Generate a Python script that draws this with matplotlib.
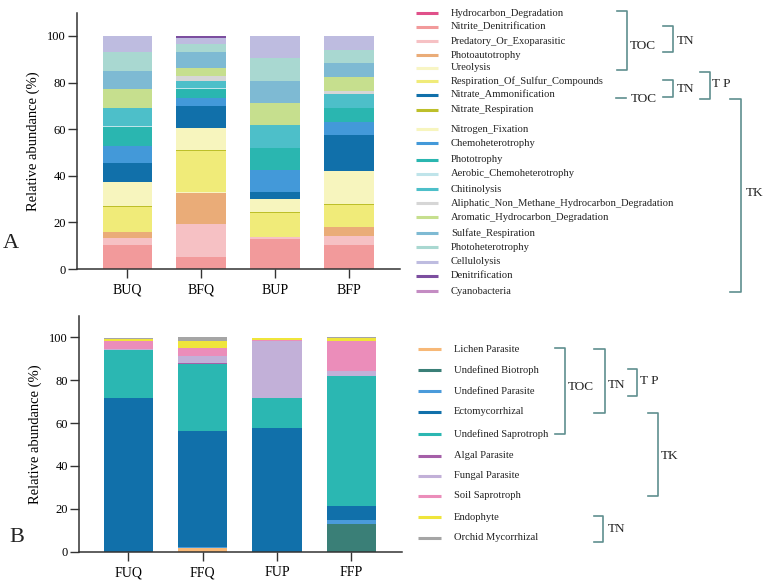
import matplotlib
matplotlib.use('Agg')
import matplotlib.pyplot as plt
import numpy as np

plt.rcParams['font.family'] = ['Liberation Serif', 'DejaVu Serif']

# ---------------- data: panel A (bacterial functions) ----------------
samples_a = ['BUQ', 'BFQ', 'BUP', 'BFP']

# legend order (top -> bottom)
funcs_a = ['Hydrocarbon_Degradation', 'Nitrite_Denitrification', 'Predatory_Or_Exoparasitic',
           'Photoautotrophy', 'Ureolysis', 'Respiration_Of_Sulfur_Compounds',
           'Nitrate_Ammonification', 'Nitrate_Respiration', 'Nitrogen_Fixation',
           'Chemoheterotrophy', 'Phototrophy', 'Aerobic_Chemoheterotrophy', 'Chitinolysis',
           'Aliphatic_Non_Methane_Hydrocarbon_Degradation', 'Aromatic_Hydrocarbon_Degradation',
           'Sulfate_Respiration', 'Photoheterotrophy', 'Cellulolysis', 'Denitrification',
           'Cyanobacteria']
colors_a = ['#E0508A', '#F29A9B', '#F6C1C4', '#EAAC78', '#F8F5C4', '#F0EB79',
            '#1170AA', '#BDBF2A', '#F7F5BE', '#4399D9', '#2AB6B0', '#BFE4EA', '#4DBFC9',
            '#D6D6D6', '#C6DF8E', '#7EBAD3', '#A9D8D1', '#BEBCE0', '#7C4E9F', '#C48CC3']

# relative abundance (%) per function, samples BUQ, BFQ, BUP, BFP
hydrocarbon_deg = [0.0, 0.1, 0.0, 0.0]
nitrite_denit = [10.4, 5.0, 12.9, 10.4]
predatory = [3.0, 14.0, 0.7, 3.9]
photoautotrophy = [2.4, 13.7, 0.2, 3.6]
ureolysis = [0.2, 0.2, 0.1, 0.1]
resp_sulfur = [10.5, 17.8, 10.3, 9.6]
nitrate_amm = [8.0, 9.4, 3.1, 15.3]
nitrate_resp = [0.5, 0.4, 0.1, 0.4]
nitrogen_fix = [10.3, 9.4, 5.6, 14.0]
chemohet = [7.7, 3.6, 9.6, 6.0]
phototrophy = [8.0, 3.8, 9.4, 5.6]
aerobic_chemohet = [0.3, 0.3, 0.1, 0.3]
chitinolysis = [7.8, 3.2, 9.5, 5.9]
aliphatic = [0.2, 1.9, 0.1, 1.4]
aromatic = [7.9, 3.5, 9.6, 6.1]
sulfate_resp = [7.9, 6.8, 9.6, 5.7]
photohet = [7.9, 3.6, 9.6, 5.7]
cellulolysis = [7.0, 2.6, 9.5, 6.0]
denitrification = [0.0, 0.5, 0.0, 0.0]
cyanobacteria = [0.0, 0.2, 0.0, 0.0]

values_a = {
    'Hydrocarbon_Degradation': hydrocarbon_deg,
    'Nitrite_Denitrification': nitrite_denit,
    'Predatory_Or_Exoparasitic': predatory,
    'Photoautotrophy': photoautotrophy,
    'Ureolysis': ureolysis,
    'Respiration_Of_Sulfur_Compounds': resp_sulfur,
    'Nitrate_Ammonification': nitrate_amm,
    'Nitrate_Respiration': nitrate_resp,
    'Nitrogen_Fixation': nitrogen_fix,
    'Chemoheterotrophy': chemohet,
    'Phototrophy': phototrophy,
    'Aerobic_Chemoheterotrophy': aerobic_chemohet,
    'Chitinolysis': chitinolysis,
    'Aliphatic_Non_Methane_Hydrocarbon_Degradation': aliphatic,
    'Aromatic_Hydrocarbon_Degradation': aromatic,
    'Sulfate_Respiration': sulfate_resp,
    'Photoheterotrophy': photohet,
    'Cellulolysis': cellulolysis,
    'Denitrification': denitrification,
    'Cyanobacteria': cyanobacteria,
}
# stacking order in the bars (bottom -> top)
stack_a = ['Hydrocarbon_Degradation', 'Nitrite_Denitrification', 'Predatory_Or_Exoparasitic',
           'Photoautotrophy', 'Ureolysis', 'Respiration_Of_Sulfur_Compounds',
           'Nitrate_Respiration', 'Nitrogen_Fixation', 'Nitrate_Ammonification',
           'Chemoheterotrophy', 'Phototrophy', 'Aerobic_Chemoheterotrophy', 'Chitinolysis',
           'Aliphatic_Non_Methane_Hydrocarbon_Degradation', 'Aromatic_Hydrocarbon_Degradation',
           'Sulfate_Respiration', 'Photoheterotrophy', 'Cellulolysis', 'Denitrification',
           'Cyanobacteria']

# ---------------- data: panel B (fungal guilds) ----------------
samples_b = ['FUQ', 'FFQ', 'FUP', 'FFP']
guilds_b = ['Lichen Parasite', 'Undefined Biotroph', 'Undefined Parasite', 'Ectomycorrhizal',
            'Undefined Saprotroph', 'Algal Parasite', 'Fungal Parasite', 'Soil Saprotroph',
            'Endophyte', 'Orchid Mycorrhizal']
colors_b = ['#F7B877', '#3A7F77', '#4A9BDB', '#1170AA', '#2BB7B2', '#A55FA8', '#C2B0D8',
            '#EB8DBA', '#EFE53B', '#A5A5A5']

lichen_par = [0.0, 1.9, 0.0, 0.0]
undef_biotroph = [0.0, 0.0, 0.0, 12.9]
undef_parasite = [0.0, 0.3, 0.0, 1.7]
ectomyc = [71.8, 54.0, 57.9, 6.5]
undef_sapro = [22.1, 31.6, 13.9, 60.9]
algal_par = [0.1, 0.1, 0.0, 0.0]
fungal_par = [0.5, 3.5, 26.3, 2.5]
soil_sapro = [3.6, 3.7, 0.6, 13.7]
endophyte = [1.2, 3.3, 1.1, 1.6]
orchid_myc = [0.6, 1.6, 0.1, 0.2]
values_b = [lichen_par, undef_biotroph, undef_parasite, ectomyc, undef_sapro,
            algal_par, fungal_par, soil_sapro, endophyte, orchid_myc]

# ---------------- figure ----------------
W, H = 767, 581
fig = plt.figure(figsize=(W / 100, H / 100), dpi=100)
SPINE = '#333333'
BR = '#5F8F8F'


def px_axes(left, top, right, bottom):
    return fig.add_axes([left / W, 1 - bottom / H, (right - left) / W, (bottom - top) / H])


def style_axes(ax, labels, xlim):
    ax.set_ylim(0, 110)
    ax.set_xlim(*xlim)
    ax.set_yticks([0, 20, 40, 60, 80, 100])
    ax.set_xticks(range(len(labels)))
    ax.set_xticklabels(labels, fontsize=10)
    ax.tick_params(axis='y', labelsize=9, length=6.5, width=1.0, color=SPINE, pad=1.5)
    ax.tick_params(axis='x', length=6.5, width=1.0, color=SPINE, pad=4)
    for s in ['top', 'right']:
        ax.spines[s].set_visible(False)
    for s in ['left', 'bottom']:
        ax.spines[s].set_color(SPINE)
        ax.spines[s].set_linewidth(1.1)
    ax.set_ylabel('Relative abundance (%)', fontsize=10.5, labelpad=5)


# panel A
axA = px_axes(77, 12.7, 400, 269)
x = np.arange(len(samples_a))
bottom = np.zeros(len(samples_a))
for name in stack_a:
    v = np.array(values_a[name])
    axA.bar(x, v, 0.67, bottom=bottom, color=colors_a[funcs_a.index(name)], linewidth=0)
    bottom += v
style_axes(axA, samples_a, (-0.68, 3.69))

# panel B
axB = px_axes(79, 316, 402, 551.7)
x = np.arange(len(samples_b))
bottom = np.zeros(len(samples_b))
for name, v, c in zip(guilds_b, values_b, colors_b):
    v = np.array(v)
    axB.bar(x, v, 0.66, bottom=bottom, color=c, linewidth=0)
    bottom += v
style_axes(axB, samples_b, (-0.66, 3.68))

# overlay in pixel coordinates for legends, brackets and panel letters
ov = fig.add_axes([0, 0, 1, 1], facecolor='none')
ov.set_xlim(0, W)
ov.set_ylim(H, 0)
ov.axis('off')

rows_a = [13, 27, 41, 55, 68, 81, 95, 110, 129, 143, 160, 174, 189, 203, 217, 233, 247, 262, 276, 291]
for name, c, y in zip(funcs_a, colors_a, rows_a):
    ov.plot([416, 438], [y, y], color=c, lw=2.2, solid_capstyle='butt')
    ov.text(451, y, name, fontsize=7.6, va='center', ha='left', color='#222222')

rows_b = [349, 370, 391, 412, 434, 456, 476, 496, 517, 538]
for name, c, y in zip(guilds_b, colors_b, rows_b):
    ov.plot([418, 441], [y, y], color=c, lw=2.2, solid_capstyle='butt')
    ov.text(454, y, name, fontsize=7.6, va='center', ha='left', color='#222222')


def bracket(xb, y0, y1, tick=10):
    ov.plot([xb - tick, xb, xb, xb - tick], [y0, y0, y1, y1], color=BR, lw=1.2)


def tag(xt, yt, s, size=9.5):
    ov.text(xt, yt, s, fontsize=size, va='center', ha='left', color='#222222')


# brackets panel A
bracket(627, 11, 70)
tag(630, 46, 'TOC')
bracket(673, 26, 52)
tag(677, 41, 'TN')
ov.plot([616, 626], [98, 98], color=BR, lw=1.2)
tag(631, 99, 'TOC')
bracket(673, 80, 97)
tag(677, 89, 'TN')
bracket(710, 72, 99)
tag(712, 84, 'T P')
bracket(741, 99, 292, 11)
tag(746, 193, 'TK')

# brackets panel B
bracket(565, 348, 434)
tag(568, 387, 'TOC')
bracket(605, 349, 413, 11)
tag(608, 385, 'TN')
bracket(637, 369, 396, 9)
tag(640, 381, 'T P')
bracket(658, 413, 496)
tag(661, 456, 'TK')
bracket(603, 516, 542, 9)
tag(608, 529, 'TN')

# panel letters
ov.text(3, 243, 'A', fontsize=16, va='center', ha='left', color='#222222')
ov.text(9, 537, 'B', fontsize=16, va='center', ha='left', color='#222222')

fig.savefig('out.png', dpi=100)
